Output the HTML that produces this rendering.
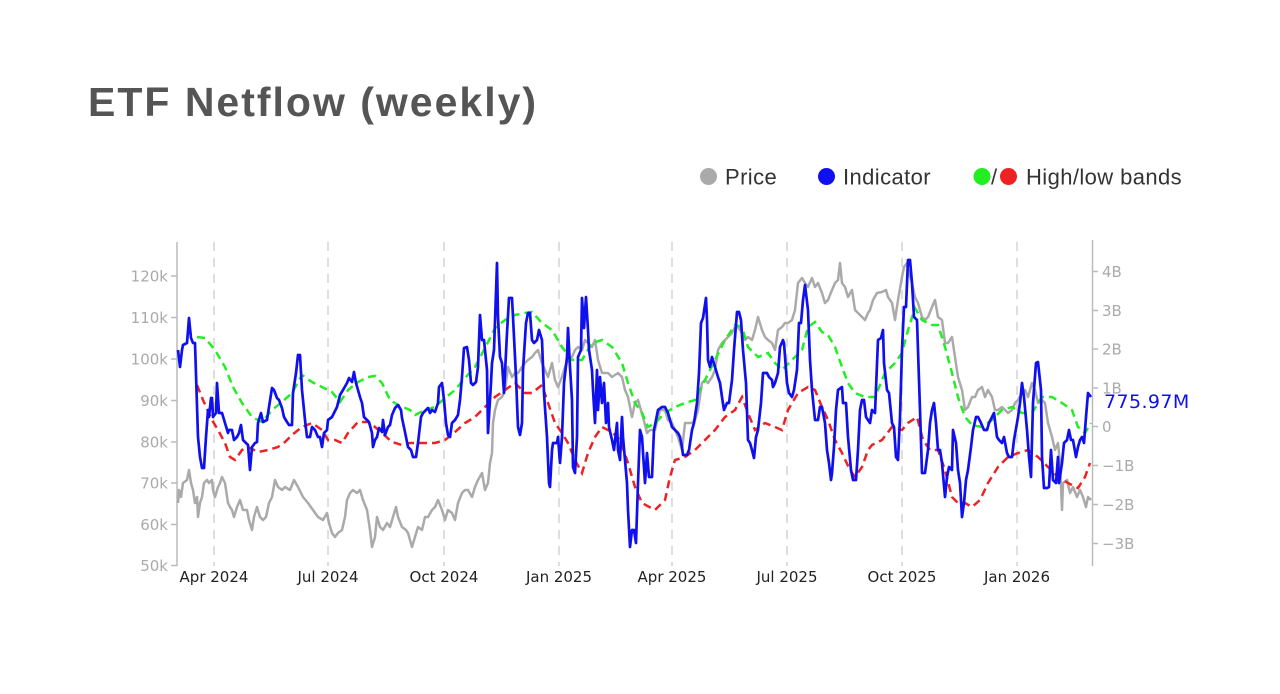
<!DOCTYPE html>
<html><head><meta charset="utf-8"><style>
html,body{margin:0;padding:0;background:#fff;}
body{width:1280px;height:694px;overflow:hidden;position:relative;font-family:"Liberation Sans",sans-serif;}
.title{position:absolute;left:88px;top:78px;font-size:41px;font-weight:bold;color:#555;letter-spacing:2px;line-height:48px;white-space:nowrap;}
</style></head><body>
<div class="title">ETF Netflow (weekly)</div>
<svg width="1280" height="694" style="position:absolute;left:0;top:0" xmlns="http://www.w3.org/2000/svg">
<!-- legend -->
<g font-family="Liberation Sans, sans-serif" font-size="22" fill="#333" letter-spacing="0.4">
<circle cx="708.5" cy="176.5" r="8.5" fill="#aaaaaa"/>
<text x="725" y="184.5">Price</text>
<circle cx="826.5" cy="176.5" r="8.5" fill="#1010ee"/>
<text x="843" y="184.5">Indicator</text>
<circle cx="982" cy="176.5" r="8.5" fill="#22ee22"/>
<text x="991" y="184.5">/</text>
<circle cx="1008.5" cy="176.5" r="8.5" fill="#ee2222"/>
<text x="1026" y="184.5">High/low bands</text>
</g>
<!-- gridlines -->
<g stroke="#d4d4d4" stroke-width="1.5" stroke-dasharray="9 7">
<line x1="214" y1="242" x2="214" y2="566"/>
<line x1="328" y1="242" x2="328" y2="566"/>
<line x1="444" y1="242" x2="444" y2="566"/>
<line x1="559" y1="242" x2="559" y2="566"/>
<line x1="672" y1="242" x2="672" y2="566"/>
<line x1="787" y1="242" x2="787" y2="566"/>
<line x1="902" y1="242" x2="902" y2="566"/>
<line x1="1017" y1="242" x2="1017" y2="566"/>
</g>
<!-- axes -->
<g stroke="#bbbbbb" stroke-width="1.5">
<line x1="177" y1="242" x2="177" y2="566"/>
<line x1="1092.5" y1="240" x2="1092.5" y2="566"/>
<line x1="171" y1="276" x2="177" y2="276"/>
<line x1="171" y1="317.5" x2="177" y2="317.5"/>
<line x1="171" y1="359" x2="177" y2="359"/>
<line x1="171" y1="400.5" x2="177" y2="400.5"/>
<line x1="171" y1="442" x2="177" y2="442"/>
<line x1="171" y1="483" x2="177" y2="483"/>
<line x1="171" y1="524.5" x2="177" y2="524.5"/>
<line x1="171" y1="565.5" x2="177" y2="565.5"/>
<line x1="1092.5" y1="271.5" x2="1098" y2="271.5"/>
<line x1="1092.5" y1="310.5" x2="1098" y2="310.5"/>
<line x1="1092.5" y1="349" x2="1098" y2="349"/>
<line x1="1092.5" y1="388" x2="1098" y2="388"/>
<line x1="1092.5" y1="426.5" x2="1098" y2="426.5"/>
<line x1="1092.5" y1="465.5" x2="1098" y2="465.5"/>
<line x1="1092.5" y1="504.5" x2="1098" y2="504.5"/>
<line x1="1092.5" y1="543.5" x2="1098" y2="543.5"/>
</g>
<g font-family="DejaVu Sans, sans-serif" font-size="15" fill="#aaaaaa" text-anchor="end">
<text x="168" y="281.5">120k</text>
<text x="168" y="323">110k</text>
<text x="168" y="364.5">100k</text>
<text x="168" y="406">90k</text>
<text x="168" y="447.5">80k</text>
<text x="168" y="488.5">70k</text>
<text x="168" y="530">60k</text>
<text x="168" y="571">50k</text>
</g>
<g font-family="DejaVu Sans, sans-serif" font-size="15" fill="#aaaaaa">
<text x="1102" y="277">4B</text>
<text x="1102" y="316">3B</text>
<text x="1102" y="354.5">2B</text>
<text x="1102" y="393.5">1B</text>
<text x="1102" y="432">0</text>
<text x="1102" y="471">−1B</text>
<text x="1102" y="510">−2B</text>
<text x="1102" y="549">−3B</text>
</g>
<g font-family="DejaVu Sans, sans-serif" font-size="15" fill="#222" text-anchor="middle">
<text x="214" y="582">Apr 2024</text>
<text x="328" y="582">Jul 2024</text>
<text x="444" y="582">Oct 2024</text>
<text x="559" y="582">Jan 2025</text>
<text x="672" y="582">Apr 2025</text>
<text x="787" y="582">Jul 2025</text>
<text x="902" y="582">Oct 2025</text>
<text x="1017" y="582">Jan 2026</text>
</g>
<!-- price -->
<polyline fill="none" stroke="#aaaaaa" stroke-width="2.5" stroke-linejoin="round" points="178,503 179,490 181,497 183,483 187,480 189,470 191,483 193,490 195,503 197,497 198,517 200,503 202,497 204,483 207,480 209,483 212,480 213,490 215,497 218,487 220,483 222,477 225,483 228,503 230,507 232,510 234,517 237,507 240,500 243,510 247,510 249,520 252,530 254,517 257,507 260,517 263,520 266,517 269,503 272,497 275,480 278,487 282,490 285,487 290,490 294,480 298,487 303,497 308,503 313,510 318,517 323,520 327,513 329,523 332,533 335,537 338,533 342,530 345,517 347,500 350,493 353,490 357,493 360,490 363,500 367,510 370,530 372,547 375,537 377,517 380,527 383,530 387,523 390,527 393,517 396,507 398,517 402,527 406,530 408,533 412,547 415,537 418,527 422,530 425,517 428,517 432,510 435,507 438,500 442,510 445,520 448,510 452,513 455,520 458,503 462,493 465,490 468,490 472,497 475,487 478,480 482,473 485,490 488,483 490,463 492,453 493,423 495,410 498,400 502,397 505,390 508,367 512,377 515,373 518,373 522,367 525,363 528,360 532,357 535,353 538,350 542,363 545,370 548,377 552,363 555,380 558,387 562,377 565,367 568,360 572,357 575,350 578,347 582,350 585,340 588,343 592,347 595,340 598,360 602,373 605,373 608,373 612,377 615,375 618,373 622,377 625,390 628,397 632,417 635,403 638,400 640,407 643,417 647,433 650,430 655,430 660,410 665,410 668,420 672,423 675,430 678,437 682,450 685,423 688,423 692,423 695,420 698,410 702,383 705,380 708,383 712,377 715,370 718,350 722,343 725,340 728,337 732,333 735,327 738,327 742,333 745,340 748,337 752,340 755,330 758,317 762,330 765,337 768,340 772,343 775,350 778,330 782,327 785,323 788,323 792,320 795,310 798,283 802,278 805,283 808,287 812,278 815,287 818,283 822,293 825,303 828,300 832,290 835,283 838,280 840,263 842,283 845,287 848,297 852,290 855,310 858,313 862,317 865,320 868,313 870,310 873,300 877,293 882,292 886,290 888,297 892,303 895,320 898,300 902,277 904,267 907,263 908,270 912,283 915,297 918,303 922,317 925,320 928,317 932,307 935,300 938,317 942,320 945,343 948,343 952,337 955,357 958,377 962,390 965,410 968,407 972,397 975,397 978,390 982,387 985,397 988,390 992,397 995,410 998,410 1002,407 1005,410 1008,413 1012,410 1015,403 1018,400 1022,393 1025,390 1028,397 1032,383 1035,390 1038,403 1042,400 1045,403 1048,423 1052,437 1055,450 1058,443 1060,463 1062,510 1063,483 1067,480 1070,493 1073,487 1077,497 1080,490 1083,497 1086,507 1088,497 1091,500"/>
<!-- high band -->
<polyline fill="none" stroke="#22ee22" stroke-width="2.5" stroke-dasharray="8 5" points="197,337 205,338 215,350 225,367 233,387 242,403 252,417 262,422 272,410 282,402 292,393 302,375 312,382 322,387 332,392 340,402 348,390 358,382 368,377 375,376 382,383 390,400 398,405 410,410 415,415 425,410 435,407 445,398 455,390 465,378 475,367 485,348 495,328 505,320 515,315 525,313 532,312 542,323 552,330 562,347 572,360 582,360 592,343 602,340 612,347 622,363 628,383 635,403 642,413 648,427 655,423 665,413 675,407 685,403 695,400 705,380 715,360 725,340 735,325 742,327 748,347 758,357 768,353 775,363 782,370 792,360 802,350 808,327 815,322 822,332 828,335 835,347 842,367 848,383 855,393 865,397 875,397 885,373 895,363 902,353 908,330 915,308 922,320 932,325 938,325 945,347 952,373 958,397 965,417 972,425 982,427 992,420 1002,410 1012,407 1022,413 1032,413 1042,397 1052,397 1062,403 1072,410 1078,427 1085,433 1091,423"/>
<!-- low band -->
<polyline fill="none" stroke="#ee2222" stroke-width="2.5" stroke-dasharray="8 5" points="197,385 203,400 212,420 218,430 225,443 230,457 235,460 242,450 248,447 258,452 268,450 278,447 285,442 292,435 302,427 312,423 322,430 328,440 335,440 342,443 348,433 358,422 368,422 375,427 382,433 392,442 402,445 410,443 415,443 425,443 435,443 445,440 455,432 465,423 475,417 485,407 495,397 505,390 515,383 525,393 532,393 542,385 548,403 555,423 562,433 568,443 575,460 582,473 588,453 595,437 602,427 612,432 620,440 628,463 635,487 642,503 655,510 665,500 670,477 675,460 685,457 695,450 705,440 715,430 725,417 735,410 742,397 748,413 755,430 765,423 775,427 782,430 788,410 798,393 808,387 815,390 822,407 828,420 835,440 842,453 850,470 855,477 862,467 868,450 872,445 882,440 892,427 902,430 908,423 917,417 923,440 930,450 938,450 945,470 952,497 958,503 965,503 972,507 980,500 988,483 998,467 1008,457 1018,453 1028,450 1038,457 1048,467 1058,477 1068,483 1078,488 1085,477 1090,463"/>
<!-- indicator -->
<polyline fill="none" stroke="#1010ee" stroke-width="2.7" stroke-linejoin="round" points="178,350 180,367 182,350 183,345 187,343 189,318 191,338 193,343 195,343 198,437 200,457 202,468 204,468 206,437 208,410 209,417 211,398 212,398 213,417 216,413 217,383 219,413 222,413 225,423 228,433 229,430 232,430 234,440 237,437 239,433 241,425 243,440 246,443 248,445 250,470 252,447 255,443 257,442 258,423 261,413 263,422 267,420 269,407 272,388 274,390 277,398 279,400 282,408 284,417 287,422 289,425 292,425 293,393 296,373 298,355 300,355 302,390 305,420 307,437 310,437 312,427 315,430 318,437 320,437 322,447 324,433 327,430 328,420 332,417 334,413 337,407 340,395 343,390 347,383 349,378 352,382 354,372 356,383 358,390 360,397 362,403 364,417 367,420 369,422 372,433 373,447 375,440 377,437 379,428 382,432 383,420 385,435 388,427 390,425 392,415 395,408 398,405 401,410 402,418 405,432 408,447 411,450 413,457 416,457 418,443 421,417 423,413 426,410 428,408 430,413 432,410 435,412 438,403 439,387 442,383 444,400 446,423 448,435 450,437 452,423 455,420 458,415 460,400 462,377 464,348 467,347 469,360 471,383 473,385 476,382 478,367 480,315 482,340 484,340 487,370 488,433 491,383 492,363 494,350 497,263 498,317 500,357 502,363 504,393 507,333 509,298 512,298 513,317 516,377 518,427 520,435 522,423 523,370 526,323 528,313 530,313 532,340 534,343 537,340 539,330 542,340 544,393 547,437 549,483 550,487 552,450 553,443 557,443 558,437 560,463 562,437 564,383 567,357 568,328 570,367 572,400 573,467 575,473 577,437 578,357 581,350 582,298 584,328 586,297 588,330 589,350 592,370 593,390 595,423 597,370 598,410 600,377 602,403 604,383 606,423 608,403 609,427 612,440 614,450 617,423 618,450 620,460 622,417 623,437 625,460 627,483 628,510 630,547 632,530 634,530 636,543 638,483 640,430 642,437 645,483 647,453 649,477 652,477 654,430 658,410 662,407 665,407 668,413 670,420 672,427 675,430 678,433 680,437 682,447 683,455 687,455 689,450 692,430 694,423 697,403 699,373 701,323 703,318 706,298 707,320 708,360 710,367 712,357 715,367 718,377 720,383 722,397 724,410 727,403 729,403 732,380 734,350 737,312 739,312 741,320 743,350 746,383 748,440 750,443 752,450 754,458 756,437 758,430 761,403 763,373 767,373 769,377 772,380 773,387 775,383 778,373 780,347 783,340 784,343 787,383 789,393 792,397 794,390 797,370 799,323 801,323 803,300 805,285 808,310 810,360 812,390 815,420 818,420 820,407 822,407 825,423 827,450 829,463 831,480 832,473 834,447 836,410 838,390 842,387 843,403 846,403 848,437 851,470 853,480 856,480 858,450 860,410 862,400 864,400 866,417 868,420 870,423 872,410 875,413 878,340 881,338 883,330 884,363 887,390 889,393 892,423 894,427 896,457 898,460 900,417 902,350 904,307 906,307 908,260 910,260 912,283 914,317 917,320 918,350 920,410 922,473 925,473 928,450 930,423 932,410 934,403 936,423 938,450 940,450 942,463 945,497 947,477 949,467 952,470 953,430 956,443 958,470 960,483 962,517 964,503 966,480 968,470 971,447 973,430 976,417 978,417 981,423 984,430 987,430 989,423 992,417 994,413 997,437 999,440 1002,443 1004,437 1007,453 1009,457 1012,457 1014,440 1017,423 1018,417 1020,403 1022,383 1024,397 1027,430 1029,457 1031,477 1033,403 1036,363 1038,362 1041,390 1042,457 1044,488 1047,488 1049,487 1051,450 1053,480 1056,483 1058,457 1059,483 1062,463 1064,443 1067,440 1069,430 1071,440 1073,440 1076,457 1078,447 1080,440 1082,437 1084,443 1086,417 1088,393 1091,397"/>
<text x="1104" y="408" font-family="DejaVu Sans, sans-serif" font-size="19" fill="#1010ee" letter-spacing="0.4">775.97M</text>
</svg>
</body></html>
